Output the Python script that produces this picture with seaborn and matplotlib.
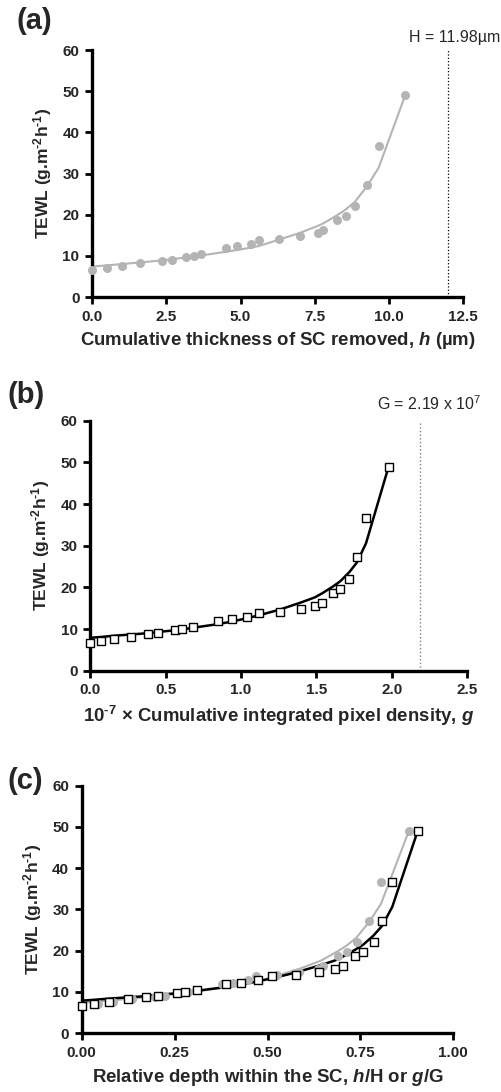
import numpy as np
import pandas as pd
import matplotlib
matplotlib.use('Agg')
import matplotlib.pyplot as plt
import seaborn as sns

# --- data ---
tewl = [6.6, 7.1, 7.6, 8.2, 8.7, 9.1, 9.8, 9.9, 10.4, 12.0, 12.3, 12.9, 13.9,
        14.0, 14.8, 15.6, 16.3, 18.7, 19.7, 22.1, 27.2, 36.7, 49.0]
h_um = [0.0, 0.52, 1.0, 1.62, 2.37, 2.7, 3.16, 3.43, 3.68, 4.51, 4.87, 5.35, 5.62,
        6.28, 7.01, 7.61, 7.79, 8.26, 8.55, 8.86, 9.27, 9.65, 10.54]
g_px = [0.0, 0.07, 0.16, 0.27, 0.38, 0.45, 0.56, 0.61, 0.68, 0.85, 0.94, 1.04, 1.12,
        1.26, 1.40, 1.49, 1.54, 1.61, 1.66, 1.72, 1.77, 1.83, 1.98]
# fitted curves (values at each data x)
fit_h = [7.4, 7.7, 8.0, 8.4, 8.9, 9.2, 9.6, 9.9, 10.1, 11.0, 11.4, 12.0, 12.4,
         13.9, 15.6, 17.3, 17.9, 19.9, 21.3, 23.2, 27.0, 31.4, 48.9]
fit_g = [7.9, 8.1, 8.4, 8.7, 9.0, 9.3, 9.7, 9.9, 10.3, 11.2, 11.8, 12.6, 13.3,
         14.7, 16.4, 17.6, 18.6, 20.2, 21.5, 23.7, 26.0, 30.6, 49.0]
H_total = 11.98
G_total = 2.19

df = pd.DataFrame({'h': h_um, 'g': g_px, 'tewl': tewl, 'fit_h': fit_h, 'fit_g': fit_g})
df['h_rel'] = df['h'] / H_total
df['g_rel'] = df['g'] / G_total

sns.set_theme(style='ticks')
plt.rcParams['font.family'] = ['Liberation Sans', 'DejaVu Sans']
plt.rcParams['font.weight'] = 'bold'
plt.rcParams['mathtext.default'] = 'regular'
plt.rcParams['mathtext.fontset'] = 'custom'
plt.rcParams['mathtext.it'] = 'Liberation Sans:bold:italic'
plt.rcParams['mathtext.rm'] = 'Liberation Sans:bold'

GRAY = '#b4b4b4'
HY = '\u2010'  # hyphen, as in the reference superscripts
ylab = 'TEWL (g.m$^{' + HY + '2}$h$^{' + HY + '1}$)'

fig = plt.figure(figsize=(5.01, 10.92), dpi=100)
ax_a = fig.add_axes([0.1836, 0.7280, 0.7411, 0.2262])
ax_b = fig.add_axes([0.1802, 0.3858, 0.7519, 0.2289])
ax_c = fig.add_axes([0.1631, 0.0538, 0.7417, 0.2267])


def style_axis(ax, xmax, xticks, xfmt):
    ax.set_xlim(0, xmax)
    ax.set_ylim(0, 60)
    ax.set_xticks(xticks)
    ax.set_xticklabels([xfmt.format(t) for t in xticks], fontsize=11, fontweight='bold')
    ax.set_yticks(range(0, 61, 10))
    ax.set_yticklabels([str(t) for t in range(0, 61, 10)], fontsize=11, fontweight='bold')
    sns.despine(ax=ax)
    for s in ['left', 'bottom']:
        ax.spines[s].set_linewidth(2.4)
        ax.spines[s].set_color('black')
    ax.tick_params(axis='both', direction='out', length=5, width=2, color='black', pad=4)
    ax.set_ylabel(ylab, fontsize=12.5, fontweight='bold', labelpad=6)
    ax.set_facecolor('white')


# (a) thickness removed
sns.lineplot(data=df, x='h', y='fit_h', sort=False, estimator=None, color=GRAY,
             linewidth=1.5, ax=ax_a)
sns.scatterplot(data=df, x='h', y='tewl', color=GRAY, s=42, linewidth=0,
                clip_on=False, zorder=3, ax=ax_a)
ax_a.axvline(H_total, color='black', linestyle=':', linewidth=0.9)
ax_a.text(12.2, 61.3, 'H = 11.98µm', ha='center', va='bottom', fontsize=11.5,
          fontweight='normal', clip_on=False)
style_axis(ax_a, 12.5, [0, 2.5, 5, 7.5, 10, 12.5], '{:.1f}')
ax_a.set_xlabel('Cumulative thickness of SC removed, $\\mathit{h}$ (µm)',
                fontsize=13.4, fontweight='bold', labelpad=5)

# (b) integrated pixel density
sns.lineplot(data=df, x='g', y='fit_g', sort=False, estimator=None, color='black',
             linewidth=1.8, ax=ax_b)
sns.scatterplot(data=df, x='g', y='tewl', marker='s', facecolor='white',
                edgecolor='black', s=30, linewidth=1, clip_on=False, zorder=3, ax=ax_b)
ax_b.axvline(G_total, color='gray', linestyle=':', linewidth=1.0)
ax_b.text(2.25, 61.8, 'G = 2.19 x 10$^7$', ha='center', va='bottom', fontsize=11.5,
          fontweight='normal', clip_on=False)
style_axis(ax_b, 2.5, [0, 0.5, 1.0, 1.5, 2.0, 2.5], '{:.1f}')
ax_b.set_xlabel('10$^{' + HY + '7}$ × Cumulative integrated pixel density, $\\mathit{g}$',
                fontsize=13.4, fontweight='bold', labelpad=5)

# (c) relative depth, both methods
sns.lineplot(data=df, x='h_rel', y='fit_h', sort=False, estimator=None, color=GRAY,
             linewidth=1.5, ax=ax_c)
sns.scatterplot(data=df, x='h_rel', y='tewl', color=GRAY, s=42, linewidth=0,
                clip_on=False, zorder=3, ax=ax_c)
sns.lineplot(data=df, x='g_rel', y='fit_g', sort=False, estimator=None, color='black',
             linewidth=1.8, ax=ax_c)
sns.scatterplot(data=df, x='g_rel', y='tewl', marker='s', facecolor='white',
                edgecolor='black', s=30, linewidth=1, clip_on=False, zorder=4, ax=ax_c)
style_axis(ax_c, 1.0, [0, 0.25, 0.5, 0.75, 1.0], '{:.2f}')
ax_c.set_xlabel('Relative depth within the SC, $\\mathit{h}$/H or $\\mathit{g}$/G',
                fontsize=13.4, fontweight='bold', labelpad=5)

# panel letters
fig.text(0.032, 0.994, '(a)', fontsize=21, fontweight='bold', va='top')
fig.text(0.014, 0.651, '(b)', fontsize=21, fontweight='bold', va='top')
fig.text(0.014, 0.298, '(c)', fontsize=21, fontweight='bold', va='top')

fig.savefig('out.png', dpi=100, facecolor='white')
